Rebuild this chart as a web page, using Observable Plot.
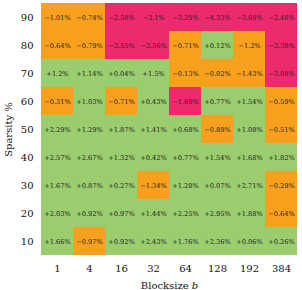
<!DOCTYPE html>
<html><head><meta charset="utf-8">
<script src="https://cdn.jsdelivr.net/npm/d3@7"></script>
<script src="https://cdn.jsdelivr.net/npm/@observablehq/plot@0.6"></script>
<style>body{margin:0;background:#fff}</style>
</head><body><div id="chart"></div>
<script>
const blocksizes = [1, 4, 16, 32, 64, 128, 192, 384];
const sparsities = [90, 80, 70, 60, 50, 40, 30, 20, 10];
const row90 = [-1.01, -0.74, -2.58, -3.1, -3.29, -4.33, -3.69, -2.48];
const row80 = [-0.64, -0.79, -3.55, -3.56, -0.71, 0.12, -1.2, -3.38];
const row70 = [1.2, 1.14, 0.04, 1.5, -0.13, -0.02, -1.43, -3.98];
const row60 = [-0.31, 1.03, -0.71, 0.43, -1.69, 0.77, 1.54, -0.59];
const row50 = [2.29, 1.29, 1.87, 1.41, 0.68, -0.89, 1.08, -0.51];
const row40 = [2.57, 2.67, 1.32, 0.42, 0.77, 1.54, 1.68, 1.82];
const row30 = [1.67, 0.87, 0.27, -1.34, 1.28, 0.07, 2.71, -0.29];
const row20 = [2.03, 0.92, 0.97, 1.44, 2.25, 2.95, 1.88, -0.64];
const row10 = [1.66, -0.97, 0.92, 2.43, 1.76, 2.36, 0.06, 0.26];
const rows = [row90, row80, row70, row60, row50, row40, row30, row20, row10];

const data = [];
rows.forEach((r, i) => r.forEach((v, j) => data.push({b: String(blocksizes[j]), s: String(sparsities[i]), v})));
const fmt = v => (v >= 0 ? "+" : "\u2212") + Math.abs(v) + "%";

const chart = Plot.plot({
  width: 302, height: 290,
  marginLeft: 38, marginRight: 2, marginTop: 0, marginBottom: 32,
  style: {fontFamily: "'DejaVu Serif', serif", fontSize: "10px", color: "#111"},
  x: {domain: blocksizes.map(String), padding: 0, label: "Blocksize b", labelAnchor: "center", labelOffset: 30, tickSize: 0, tickPadding: 6},
  y: {domain: sparsities.map(String), padding: 0, label: "Sparsity %", labelAnchor: "center", labelOffset: 34, tickSize: 0, tickPadding: 5},
  color: {type: "threshold", domain: [-1.5, 0], range: ["#ee2a6e", "#f9a11e", "#9acd6e"]},
  marks: [
    Plot.cell(data, {x: "b", y: "s", fill: "v"}),
    Plot.text(data, {x: "b", y: "s", text: d => fmt(d.v), fontSize: 6.6, fill: "#222"})
  ]
});
d3.select(chart).selectAll("text").each(function() {
  if (this.textContent === "Blocksize b") {
    const t = d3.select(this);
    t.text("Blocksize ");
    t.append("tspan").attr("font-style", "italic").text("b");
  }
});
document.getElementById("chart").append(chart);
</script></body></html>
